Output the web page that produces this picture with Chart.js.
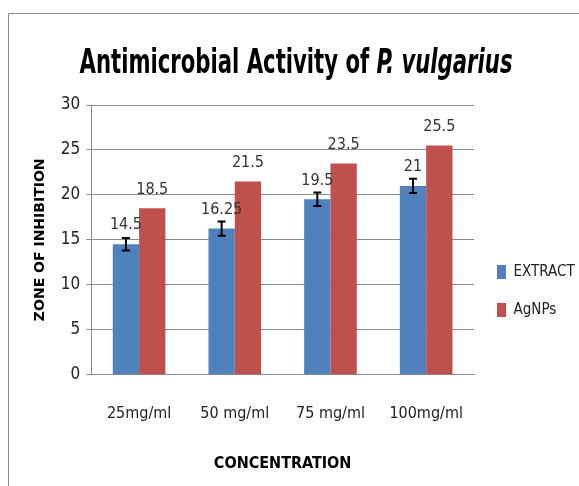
<!DOCTYPE html>
<html>
<head>
<meta charset="utf-8">
<script src="https://cdn.jsdelivr.net/npm/chart.js@4.4.0/dist/chart.umd.min.js"></script>
<style>
  body { margin: 0; background: #fff; }
  #wrap { position: relative; width: 579px; height: 486px; }
</style>
</head>
<body>
<div id="wrap"><canvas id="chart"></canvas></div>
<script>
// data
var categories = ["25mg/ml", "50 mg/ml", "75 mg/ml", "100mg/ml"];
var extractValues = [14.5, 16.25, 19.5, 21];
var agnpValues = [18.5, 21.5, 23.5, 25.5];
var extractErrors = [0.7, 0.8, 0.75, 0.8];
var seriesNames = ["EXTRACT", "AgNPs"];

var FONT = '"Liberation Sans Narrow", "DejaVu Sans Condensed", "Arial Narrow", sans-serif';
var BLUE = "#4F81BD";
var RED = "#C0504D";

// frame + title with italic species name
var framePlugin = {
    id: "frame",
    beforeDraw: function (chart) {
        var ctx = chart.ctx;
        ctx.save();
        ctx.fillStyle = "#fff";
        ctx.fillRect(0, 0, chart.width, chart.height);
        ctx.strokeStyle = "#8a8a8a";
        ctx.lineWidth = 1;
        ctx.beginPath();
        ctx.moveTo(8.5, chart.height);
        ctx.lineTo(8.5, 13.5);
        ctx.lineTo(chart.width, 13.5);
        ctx.stroke();
        ctx.restore();
    },
    afterDraw: function (chart) {
        var ctx = chart.ctx;
        var part1 = "Antimicrobial Activity of ";
        var part2 = "P. vulgarius";
        var f1 = "bold 33px " + FONT;
        var f2 = "italic bold 33px " + FONT;
        ctx.save();
        ctx.font = f1;
        var w1 = ctx.measureText(part1).width;
        ctx.font = f2;
        var w2 = ctx.measureText(part2).width;
        var target = 433;
        var sx = target / (w1 + w2);
        ctx.translate(296 - target / 2, 73);
        ctx.scale(sx, 1);
        ctx.fillStyle = "#000";
        ctx.textBaseline = "alphabetic";
        ctx.font = f1;
        ctx.fillText(part1, 0, 0);
        ctx.font = f2;
        ctx.fillText(part2, w1, 0);
        ctx.restore();
    }
};

// error bars on the extract series and value labels over each bar
var barExtras = {
    id: "barExtras",
    afterDatasetsDraw: function (chart) {
        var ctx = chart.ctx;
        var yScale = chart.scales.y;
        ctx.save();
        var m0 = chart.getDatasetMeta(0);
        ctx.strokeStyle = "#000";
        ctx.lineWidth = 2;
        m0.data.forEach(function (bar, i) {
            var v = extractValues[i];
            var e = extractErrors[i];
            var yt = yScale.getPixelForValue(v + e);
            var yb = yScale.getPixelForValue(v - e);
            ctx.beginPath();
            ctx.moveTo(bar.x, yt); ctx.lineTo(bar.x, yb);
            ctx.moveTo(bar.x - 4, yt); ctx.lineTo(bar.x + 4, yt);
            ctx.moveTo(bar.x - 4, yb); ctx.lineTo(bar.x + 4, yb);
            ctx.stroke();
        });
        ctx.fillStyle = "#333";
        ctx.font = "16px " + FONT;
        ctx.textAlign = "center";
        ctx.textBaseline = "middle";
        chart.data.datasets.forEach(function (ds, di) {
            chart.getDatasetMeta(di).data.forEach(function (bar, i) {
                ctx.fillText(String(ds.data[i]), bar.x, bar.y - 19);
            });
        });
        ctx.restore();
    }
};

new Chart(document.getElementById("chart"), {
    type: "bar",
    data: {
        labels: categories,
        datasets: [
            { label: seriesNames[0], data: extractValues, backgroundColor: BLUE, borderWidth: 0 },
            { label: seriesNames[1], data: agnpValues, backgroundColor: RED, borderWidth: 0 }
        ]
    },
    options: {
        responsive: true,
        maintainAspectRatio: false,
        animation: false,
        devicePixelRatio: 1,
        layout: { padding: { top: 105, bottom: 9, left: 28, right: 0 } },
        datasets: { bar: { categoryPercentage: 0.55, barPercentage: 1 } },
        plugins: {
            title: { display: false },
            tooltip: { enabled: false },
            legend: {
                position: "right",
                maxWidth: 105,
                labels: {
                    boxWidth: 9,
                    boxHeight: 14,
                    padding: 23,
                    color: "#222",
                    font: { family: FONT, size: 15 }
                }
            }
        },
        scales: {
            x: {
                grid: { display: false, drawTicks: false },
                border: { color: "#8a8a8a" },
                ticks: { color: "#222", font: { family: FONT, size: 16 }, padding: 30 },
                title: {
                    display: true, text: "CONCENTRATION", color: "#000",
                    font: { family: FONT, size: 16, weight: "bold" }, padding: { top: 0 }
                }
            },
            y: {
                min: 0, max: 30,
                ticks: { stepSize: 5, color: "#222", font: { family: FONT, size: 17 }, padding: 6 },
                grid: { color: "#8a8a8a", tickLength: 5 },
                border: { color: "#8a8a8a" },
                title: {
                    display: true, text: "ZONE OF INHIBITION", color: "#000",
                    font: { family: '"DejaVu Sans", sans-serif', size: 14, weight: "bold" }, padding: { bottom: 6 }
                }
            }
        }
    },
    plugins: [framePlugin, barExtras]
});
</script>
</body>
</html>
